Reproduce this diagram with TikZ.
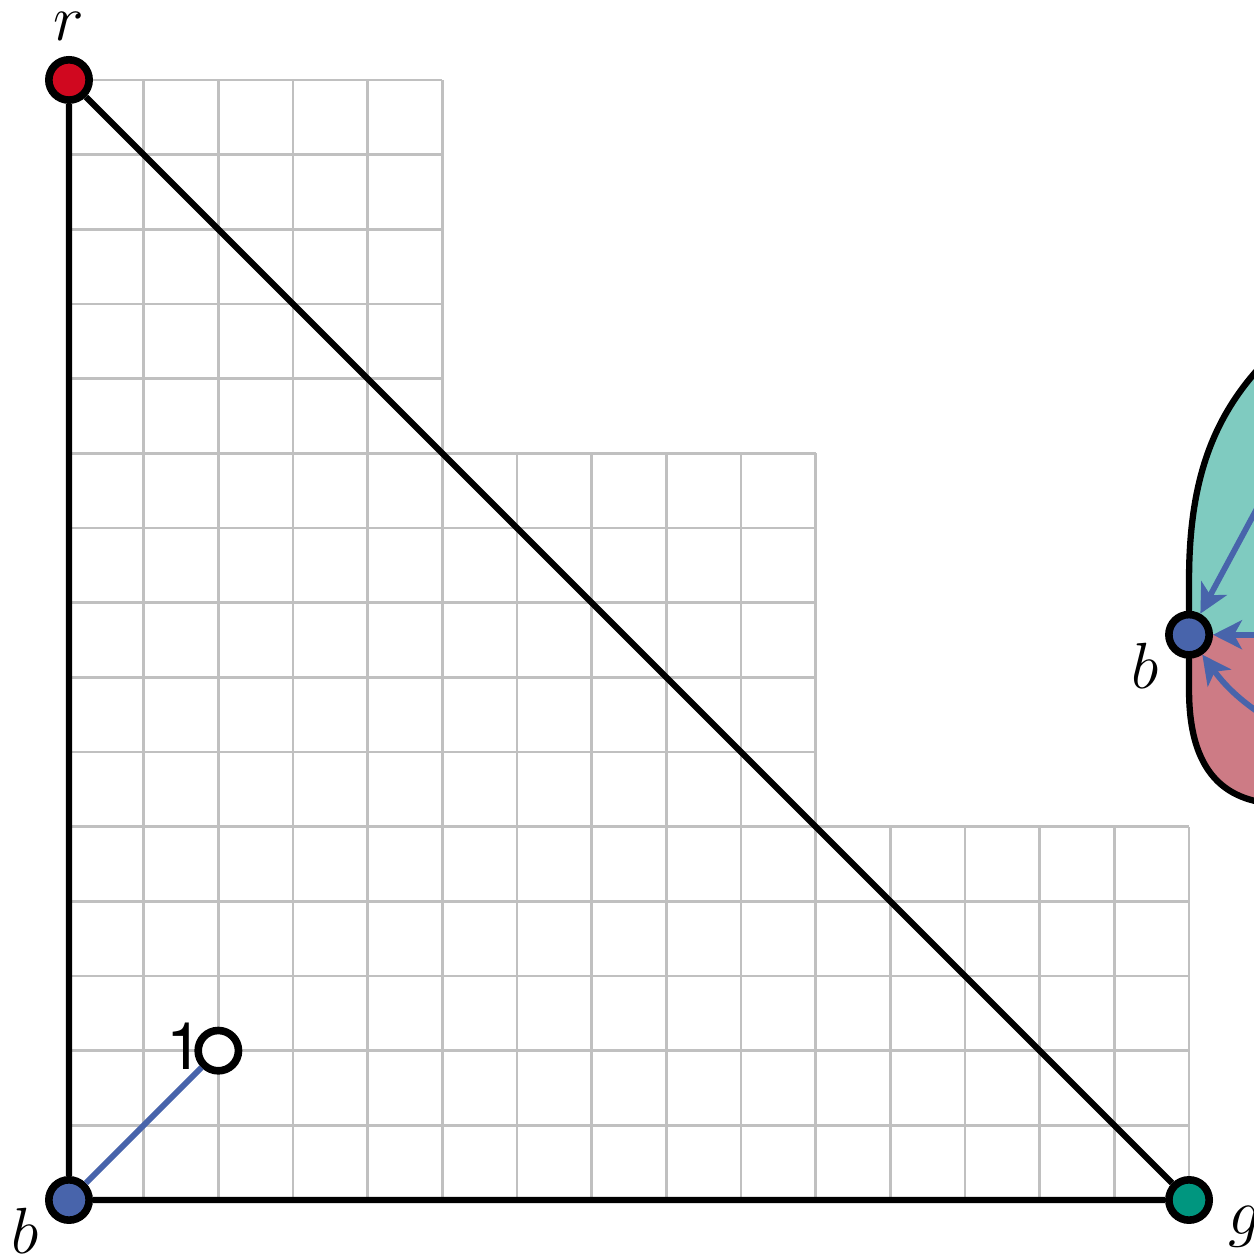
\documentclass[tikz,border=0pt]{standalone}
\usepackage{fontspec}
\newfontfamily\heros{TeX Gyre Heros}
\usetikzlibrary{arrows.meta,calc}
\definecolor{vred}{HTML}{D0081F}
\definecolor{vblue}{HTML}{4864AB}
\definecolor{vgreen}{HTML}{00967F}
\definecolor{tealfill}{HTML}{7FCBC0}
\definecolor{pinkfill}{HTML}{CD7B85}
\definecolor{gridgray}{HTML}{C0C0C0}
\tikzset{
  vtx/.style={circle,draw=black,line width=2.9pt,minimum size=0.54cm,inner sep=0pt},
  lab/.style={font=\fontsize{25}{30}\selectfont},
  gridline/.style={gridgray,line width=1pt},
  edge/.style={black,line width=2.4pt},
  arr/.style={vblue,line width=2.2pt,-{Stealth[length=11pt,width=11pt,inset=3pt]}}
}

\begin{document}
\begin{tikzpicture}
\useasboundingbox (-0.924,-0.8035) rectangle (15.857,16.071);
% staircase of cells
\draw[gridline] (0,0) grid (5,15) (5,0) grid (10,10) (10,0) grid (15,5);
\node[vtx,fill=vblue,label={[lab,xshift=-0.59cm,yshift=-0.415cm]center:$b$}] (b) at (0,0) {};
\node[vtx,fill=vred,label={[lab,yshift=0.72cm]center:$r$}] (r) at (0,15) {};
\node[vtx,fill=vgreen,label={[lab,xshift=0.75cm,yshift=-0.36cm]center:$g$}] (g) at (15,0) {};
\node[vtx,fill=white,label={[font=\heros\fontsize{25}{30}\selectfont,xshift=-0.455cm,yshift=0.054cm]center:1}] (n1) at (2,2) {};
\draw[edge] (b) -- (r) -- (g) -- (b);
\draw[vblue,line width=2.2pt] (b) -- (n1);

% region on the right
\begin{scope}
  \clip (14,7.57) rectangle (17,12);
  \fill[tealfill] (16.3,11.5) .. controls (15.4,10.7) and (15,9.8) .. (15,8.3) -- (15,6.83)
    .. controls (15,5.6) and (15.6,5.3) .. (16.3,5.3) -- cycle;
\end{scope}
\begin{scope}
  \clip (14,4) rectangle (17,7.57);
  \fill[pinkfill] (16.3,11.5) .. controls (15.4,10.7) and (15,9.8) .. (15,8.3) -- (15,6.83)
    .. controls (15,5.6) and (15.6,5.3) .. (16.3,5.3) -- cycle;
\end{scope}
\draw[edge] (16.3,11.5) .. controls (15.4,10.7) and (15,9.8) .. (15,8.3) -- (15,6.83)
  .. controls (15,5.6) and (15.6,5.3) .. (16.3,5.3);
\node[vtx,fill=vblue,label={[lab,xshift=-0.59cm,yshift=-0.415cm]center:$b$}] (b2) at (15,7.57) {};
\coordinate (p1) at (16.2,9.8);
\coordinate (p2) at (16.3,7.57);
\coordinate (p3) at (16.3,6.3);
\draw[arr] (p1) -- (b2);
\draw[arr] (p2) -- (b2);
\draw[arr] (p3) to[bend left=12] (b2);
\end{tikzpicture}
\end{document}
